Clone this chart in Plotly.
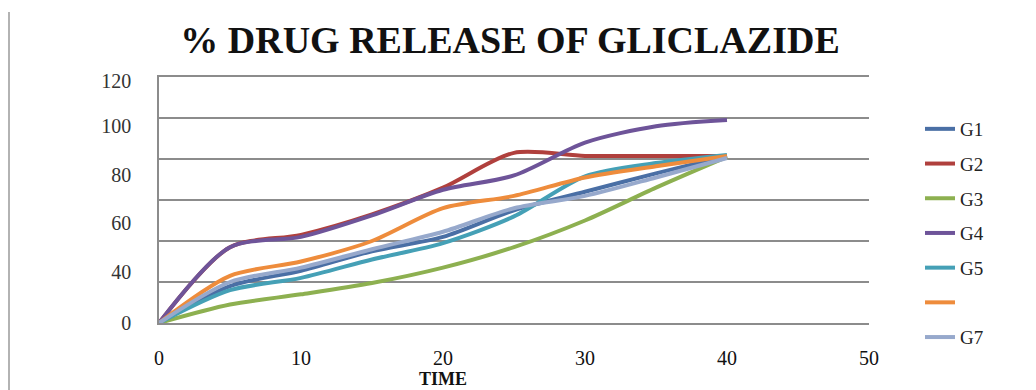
import plotly.graph_objects as go

# ---- data ----
time = [0, 5, 10, 15, 20, 25, 30, 35, 40]
series_names = ["G1", "G2", "G3", "G4", "G5", "", "G7"]
g1 = [0, 18, 25.5, 35, 42, 55, 64, 73, 81.5]
g2 = [0, 37, 43, 53, 66, 83, 81.5, 81.5, 81.5]
g3 = [0, 9, 14, 19.5, 27, 37, 50, 66, 81]
g4 = [0, 37, 42, 52.5, 65, 72, 88, 96, 99]
g5 = [0, 16, 22, 31, 39, 52, 71.5, 78, 82]
g6 = [0, 23, 30, 40, 56, 62, 71, 76.5, 81.5]
g7 = [0, 20, 27, 36, 44.5, 56, 62, 71, 80.5]
series_values = [g1, g2, g3, g4, g5, g6, g7]
colors = ["#4A6FA5", "#B0403D", "#8DB050", "#6E5499", "#45A0B6", "#EE8C3C", "#97A9CC"]

x_ticks = [0, 10, 20, 30, 40, 50]
y_grid = [0, 20, 40, 60, 80, 100, 120]
y_label_pos = [0, 25, 49, 72, 96, 118]
y_label_text = ["0", "40", "60", "80", "100", "120"]

title_text = "% DRUG RELEASE OF GLICLAZIDE"
x_title = "TIME"

# page has an 8px body margin; lay out in page pixels and convert
OFF = 8
W, H = 1036 - OFF, 390 - OFF
PL, PR, PT, PB = 159, 869, 77, 323          # plot area in page pixels
ML, MT = PL - OFF, PT - OFF
MR, MB = W - (PR - OFF), H - (PB - OFF)
SERIF = "Liberation Serif"
GRID = "#8C8C8C"

fig = go.Figure()
for i, (name, vals, col) in enumerate(zip(series_names, series_values, colors)):
    fig.add_trace(go.Scatter(
        x=time, y=vals, name=name, mode="lines",
        line=dict(color=col, width=4, shape="spline", smoothing=0.8),
        legendgroup=f"g{i}",
    ))

pw = PR - PL
ph = PB - PT
def px(xp):
    return (xp - PL) / pw
def py(yp):
    return (PB - yp) / ph

shapes = [
    dict(type="line", xref="paper", yref="paper", x0=px(9), x1=px(9), y0=py(12), y1=py(392),
         line=dict(color="#9A9A9A", width=1.5)),
]

fig.update_layout(
    width=W, height=H,
    margin=dict(l=ML, r=MR, t=MT, b=MB, autoexpand=False),
    paper_bgcolor="white", plot_bgcolor="white",
    title=dict(text=f"<b>{title_text}</b>", x=(510 - OFF) / W, xanchor="center",
               y=1 - (40 - OFF) / H, yanchor="middle",
               font=dict(family=SERIF, size=38, color="#111111")),
    xaxis=dict(range=[0, 50], tickvals=x_ticks, showgrid=False, zeroline=False,
               showline=True, mirror=True, linecolor=GRID, linewidth=1.5,
               ticks="", ticklabelstandoff=16,
               tickfont=dict(family=SERIF, size=20, color="#111111")),
    yaxis=dict(range=[0, 120], tickvals=y_label_pos, ticktext=y_label_text,
               showgrid=False, zeroline=False, showline=True, linecolor=GRID,
               linewidth=1.5, ticks="", ticklabelstandoff=22,
               tickfont=dict(family=SERIF, size=20, color="#333333"),
               minor=dict(tickvals=y_grid, showgrid=True, gridcolor=GRID,
                          gridwidth=1.5, ticks="")),
    legend=dict(x=px(920), xanchor="left", y=py(110), yanchor="top",
                font=dict(family=SERIF, size=19, color="#222222"),
                tracegroupgap=7, bgcolor="rgba(0,0,0,0)"),
    shapes=shapes,
    annotations=[dict(text=f"<b>{x_title}</b>", xref="x", yref="paper", x=20,
                      y=py(379), xanchor="center", yanchor="middle", showarrow=False,
                      font=dict(family=SERIF, size=18, color="#111111"))],
    showlegend=True,
)

fig.write_html("out.html")
